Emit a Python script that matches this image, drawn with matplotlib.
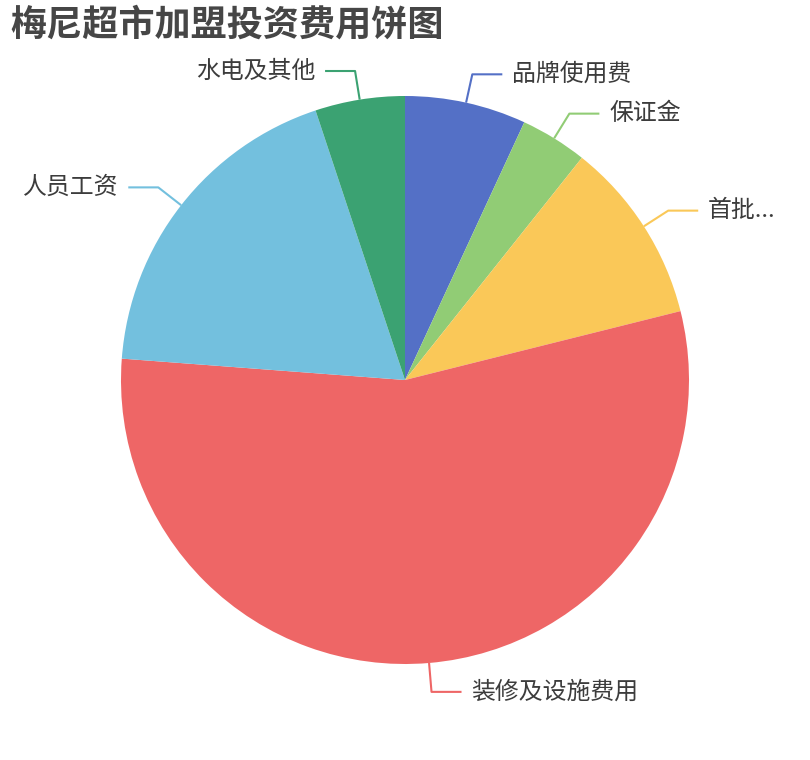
import matplotlib.pyplot as plt
import numpy as np

plt.rcParams['font.family'] = ['Noto Sans CJK SC', 'DejaVu Sans']

# share of total investment (%)
labels = ['品牌使用费', '保证金', '首批...', '装修及设施费用', '人员工资', '水电及其他']
values = [6.9, 3.8, 10.4, 55.1, 18.7, 5.1]
colors = ['#5470c6', '#91cc75', '#fac858', '#ee6666', '#73c0de', '#3ba272']

W, H = 810, 760
fig = plt.figure(figsize=(W / 100, H / 100), dpi=100)
ax = fig.add_axes([0, 0, 1, 1])

cx, cy, r = 405, H - 380, 284
wedges, _ = ax.pie(values, colors=colors, startangle=90, counterclock=False,
                   center=(cx, cy), radius=r, wedgeprops=dict(linewidth=0))

len1, len2, gap = 29, 30, 10
for w, lab, col in zip(wedges, labels, colors):
    mid = np.deg2rad((w.theta1 + w.theta2) / 2)
    ux, uy = np.cos(mid), np.sin(mid)
    x0, y0 = cx + r * ux, cy + r * uy
    x1, y1 = cx + (r + len1) * ux, cy + (r + len1) * uy
    s = 1 if ux >= 0 else -1
    x2 = x1 + s * len2
    ax.plot([x0, x1, x2], [y0, y1, y1], color=col, lw=1.5, solid_capstyle='butt')
    ax.text(x2 + s * gap, y1, lab, ha='left' if s > 0 else 'right', va='center',
            fontsize=17.2, color='#3c3c3c')

ax.text(10, H - 25, '梅尼超市加盟投资费用饼图', fontsize=26, fontweight='bold',
        color='#464646', ha='left', va='center')

ax.set_xlim(0, W)
ax.set_ylim(0, H)
ax.set_aspect('equal')
ax.axis('off')
plt.savefig('out.png', dpi=100)
